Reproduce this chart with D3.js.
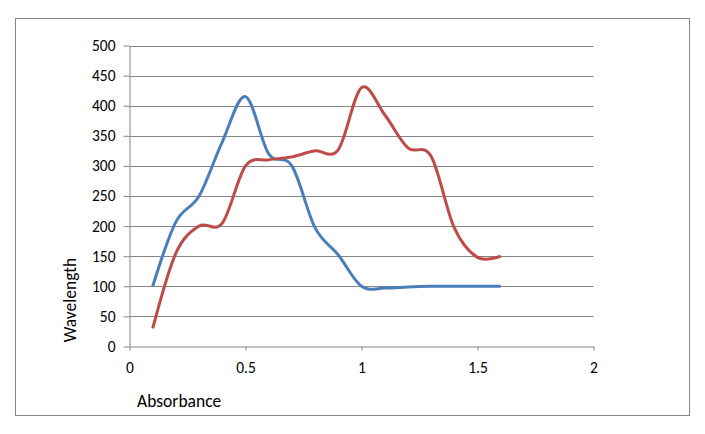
<!DOCTYPE html>
<html><head><meta charset="utf-8">
<script src="https://cdn.jsdelivr.net/npm/d3@7"></script>
<style>body{margin:0;background:#fff}svg{display:block}</style>
</head><body>
<svg id="c" width="705" height="434"></svg>
<script>
const xValues = [0.1,0.2,0.3,0.4,0.5,0.6,0.7,0.8,0.9,1.0,1.1,1.2,1.3,1.4,1.5,1.6];
const blueValues = [100,207,250,340,415,320,300,197,152,100,97,99,100,100,100,100];
const redValues = [30,155,200,205,300,310,315,325,327,430,385,330,316,197,148,150];
const xTicks = [0,0.5,1,1.5,2];
const yTicks = [0,50,100,150,200,250,300,350,400,450,500];
const xTitle = "Absorbance";
const yTitle = "Wavelength";

const svg = d3.select("#c");
const font = "Calibri, Carlito, 'Open Sans', 'Liberation Sans', sans-serif";
svg.append("rect").attr("x",15.5).attr("y",18.5).attr("width",674).attr("height",397)
  .attr("fill","#fff").attr("stroke","#868686").attr("stroke-width",1);

const x = d3.scaleLinear().domain([0,2]).range([129.5,593.5]);
const y = d3.scaleLinear().domain([0,500]).range([346.5,45.5]);

// gridlines
svg.append("g").selectAll("line").data(yTicks.filter(d=>d>0)).join("line")
  .attr("x1",x(0)).attr("x2",x(2)).attr("y1",d=>Math.round(y(d))+0.5).attr("y2",d=>Math.round(y(d))+0.5)
  .attr("stroke","#868686").attr("stroke-width",1);

const yAxis = svg.append("g").attr("transform",`translate(${x(0)},0)`)
  .call(d3.axisLeft(y).tickValues(yTicks).tickSize(6).tickSizeOuter(0).tickPadding(8));
const xAxis = svg.append("g").attr("transform",`translate(0,${y(0)})`)
  .call(d3.axisBottom(x).tickValues(xTicks).tickFormat(d=>String(d)).tickSize(4).tickSizeOuter(0).tickPadding(11));
[yAxis,xAxis].forEach(g=>{
  g.selectAll("path,line").attr("stroke","#868686");
  g.selectAll("text").attr("font-family",font).attr("font-size",15.5).attr("fill","#000");
});

const line = d3.line().x((d,i)=>x(xValues[i])).y(d=>y(d)).curve(d3.curveCatmullRom.alpha(0));
svg.append("path").datum(blueValues).attr("d",line).attr("fill","none")
  .attr("stroke","#4A7EBB").attr("stroke-width",3).attr("stroke-linejoin","round");
svg.append("path").datum(redValues).attr("d",line).attr("fill","none")
  .attr("stroke","#BE4B48").attr("stroke-width",3).attr("stroke-linejoin","round");

svg.append("text").attr("x",137).attr("y",407).text(xTitle)
  .attr("font-family",font).attr("font-size",17.5).attr("fill","#000");
svg.append("text").attr("transform","translate(76,300) rotate(-90)").attr("text-anchor","middle").text(yTitle)
  .attr("font-family",font).attr("font-size",17.5).attr("fill","#000");
</script>
</body></html>
